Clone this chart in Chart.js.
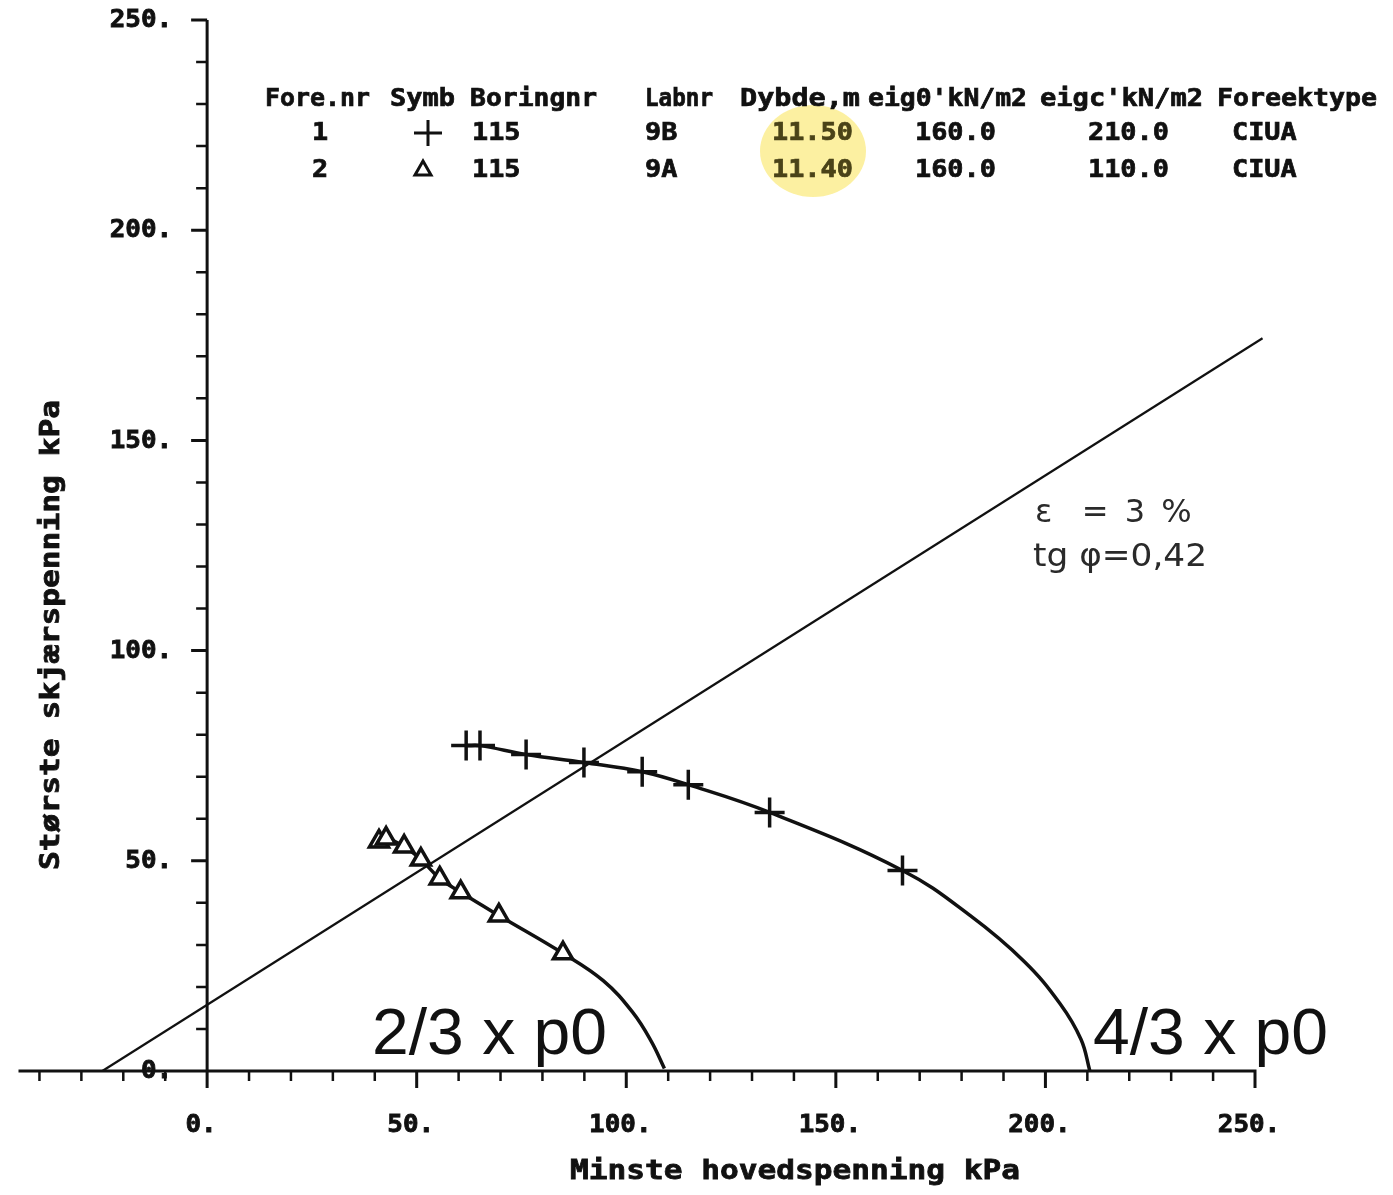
<!DOCTYPE html>
<html lang="no">
<head>
<meta charset="UTF-8">
<title>Største skjærspenning / minste hovedspenning</title>
<script src="https://cdn.jsdelivr.net/npm/chart.js@4.4.5/dist/chart.umd.min.js"></script>
<style>
  html, body { margin: 0; padding: 0; background: #fff; }
</style>
</head>
<body>
<canvas id="myChart" width="1393" height="1195"></canvas>

<script>
    // Forsøk 1 (+), labnr 9B
    const crossX = [61.8, 65.1, 76.1, 89.9, 103.8, 114.8, 134.2, 165.9];
    const crossY = [77.4, 77.4, 75.3, 73.4, 71.2, 68.1, 61.5, 47.7];
    // curve keeps going after the last marker, down to the x axis
    const crossTailX = [182.0, 195.0, 203.5, 208.5, 210.6];
    const crossTailY = [37.0, 26.0, 16.0, 7.5, 0];

    // Forsøk 2 (triangle), labnr 9A
    const triX = [41.0, 42.7, 47.0, 51.0, 55.5, 60.5, 69.6, 84.9];
    const triY = [54.6, 55.3, 53.4, 50.3, 45.8, 42.5, 37.0, 28.0];
    const triTailX = [94.5, 101.5, 106.0, 109.1];
    const triTailY = [21.5, 14.0, 7.0, 0.6];

    // failure line, tg phi
    const fitX = [-25.0, 251.8];
    const fitY = [0, 174.3];

    const majorTicks = [0, 50, 100, 150, 200, 250];
    const tickLabels = ['0.', '50.', '100.', '150.', '200.', '250.'];
    const xMinorTicks = [-40, -30, -20, -10, 10, 20, 30, 40, 60, 70, 80, 90, 110, 120, 130, 140, 160, 170, 180, 190, 210, 220, 230, 240];
    const yMinorTicks = [10, 20, 30, 40, 60, 70, 80, 90, 110, 120, 130, 140, 160, 170, 180, 190, 210, 220, 230, 240];

    const headerCols = ['Fore.nr', 'Symb', 'Boringnr', 'Labnr', 'Dybde,m', "eig0'kN/m2", "eigc'kN/m2", 'Foreektype'];
    const row1 = ['1', '', '115', '9B', '11.50', '160.0', '210.0', 'CIUA'];
    const row2 = ['2', '', '115', '9A', '11.40', '160.0', '110.0', 'CIUA'];

    function pts(xs, ys) {
        return xs.map((x, i) => ({x: x, y: ys[i]}));
    }

    const PLOT = 'bold 24px "DejaVu Sans Mono"';

    // plotter-style text: a little stroke on top of the fill makes it heavier
    function txt(ctx, s, x, y, font, align, sx, color, heavy) {
        ctx.save();
        ctx.font = font;
        ctx.fillStyle = color || '#111';
        ctx.strokeStyle = color || '#111';
        ctx.lineWidth = heavy || 0;
        ctx.textAlign = align || 'left';
        ctx.textBaseline = 'middle';
        ctx.translate(x, y);
        ctx.scale(sx || 1, 1);
        ctx.fillText(s, 0, 0);
        if (heavy) ctx.strokeText(s, 0, 0);
        ctx.restore();
    }

    function fitTxt(ctx, s, x, y, font, width, align, color, heavy) {
        ctx.save();
        ctx.font = font;
        const w = ctx.measureText(s).width;
        ctx.restore();
        txt(ctx, s, x, y, font, align, width / w, color, heavy);
    }

    const axesPlugin = {
        id: 'plotterAxes',
        afterDraw: function (chart) {
            const ctx = chart.ctx;
            const xs = chart.scales.x;
            const ys = chart.scales.y;
            const x0 = xs.getPixelForValue(0);
            const y0 = ys.getPixelForValue(0);

            ctx.save();
            ctx.strokeStyle = '#111';
            ctx.lineWidth = 3;
            ctx.lineCap = 'butt';
            ctx.beginPath();
            ctx.moveTo(xs.left, y0);
            ctx.lineTo(xs.getPixelForValue(250) + 1.5, y0);
            ctx.moveTo(x0, ys.getPixelForValue(250));
            ctx.lineTo(x0, y0 + 15);
            majorTicks.forEach(v => {
                const px = xs.getPixelForValue(v);
                ctx.moveTo(px, y0);
                ctx.lineTo(px, y0 + 17);
                const py = ys.getPixelForValue(v);
                ctx.moveTo(x0, py);
                ctx.lineTo(x0 - 16, py);
            });
            ctx.stroke();
            ctx.lineWidth = 2.5;
            ctx.beginPath();
            xMinorTicks.forEach(v => {
                const px = xs.getPixelForValue(v);
                ctx.moveTo(px, y0);
                ctx.lineTo(px, y0 + 10);
            });
            yMinorTicks.forEach(v => {
                const py = ys.getPixelForValue(v);
                ctx.moveTo(x0, py);
                ctx.lineTo(x0 - 11, py);
            });
            ctx.stroke();
            ctx.restore();

            // tick labels
            majorTicks.forEach((v, i) => {
                txt(ctx, tickLabels[i], xs.getPixelForValue(v) - 6, y0 + 55, PLOT, 'center', 1.08, '#111', 0.8);
                txt(ctx, tickLabels[i], x0 - 35, ys.getPixelForValue(v) + 1, PLOT, 'right', 1.08, '#111', 0.8);
            });

            // axis titles
            fitTxt(ctx, 'Minste hovedspenning kPa', 795, 1172, 'bold 27px "DejaVu Sans Mono"', 450, 'center', '#111', 0.8);
            ctx.save();
            ctx.translate(52, 635);
            ctx.rotate(-Math.PI / 2);
            fitTxt(ctx, 'Største skjærspenning kPa', 0, 0, 'bold 27px "DejaVu Sans Mono"', 470, 'center', '#111', 0.8);
            ctx.restore();

            // highlight round the depth values
            ctx.save();
            ctx.fillStyle = 'rgba(250, 232, 110, 0.65)';
            ctx.beginPath();
            ctx.ellipse(813, 151, 53, 46, 0, 0, Math.PI * 2);
            ctx.fill();
            ctx.restore();

            // test table
            const colX = [265, 390, 470, 645, 740, 868, 1040, 1217];
            const valX = [312, 0, 472, 645, 772, 915, 1088, 1232];
            const colW = [105, 65, 127, 68, 120, 159, 163, 160];
            headerCols.forEach((h, i) => fitTxt(ctx, h, colX[i], 100, PLOT, colW[i], 'left', '#111', 0.7));
            [row1, row2].forEach((row, r) => {
                const y = r === 0 ? 134 : 171;
                row.forEach((s, i) => {
                    if (!s) return;
                    const c = i === 4 ? '#4a4318' : '#111';
                    txt(ctx, s, valX[i], y, PLOT, 'left', 1.12, c, 0.7);
                });
            });
            ctx.save();
            ctx.strokeStyle = '#111';
            ctx.lineWidth = 3;
            ctx.beginPath();
            ctx.moveTo(414, 133);
            ctx.lineTo(442, 133);
            ctx.moveTo(428, 120);
            ctx.lineTo(428, 146);
            ctx.moveTo(423, 161);
            ctx.lineTo(431, 175);
            ctx.lineTo(415, 175);
            ctx.closePath();
            ctx.stroke();
            ctx.restore();

            // notes
            ctx.save();
            ctx.letterSpacing = '3px';
            txt(ctx, 'ε  = 3 %', 1035, 514, '32px "DejaVu Sans"', 'left', 1, '#2a2a2a');
            ctx.restore();
            fitTxt(ctx, 'tg φ=0,42', 1033, 558, '32px "DejaVu Sans"', 174, 'left', '#2a2a2a');

            fitTxt(ctx, '2/3 x p0', 372, 1036, '64px "Liberation Sans"', 235, 'left', '#111');
            fitTxt(ctx, '4/3 x p0', 1093, 1036, '64px "Liberation Sans"', 235, 'left', '#111');
        }
    };

    const config = {
        type: 'scatter',
        data: {
            datasets: [
                {
                    label: 'Forsøk 1',
                    data: pts(crossX, crossY),
                    pointStyle: 'cross',
                    pointRadius: 15,
                    borderColor: '#111',
                    borderWidth: 3.5,
                    showLine: false
                },
                {
                    label: 'Forsøk 2',
                    data: pts(triX, triY),
                    pointStyle: 'triangle',
                    pointRadius: 11,
                    borderColor: '#111',
                    backgroundColor: '#fff',
                    borderWidth: 3.5,
                    showLine: false
                },
                {
                    label: 'kurve 1',
                    data: pts(crossX.concat(crossTailX), crossY.concat(crossTailY)),
                    showLine: true,
                    pointRadius: 0,
                    borderColor: '#111',
                    borderWidth: 3.5,
                    tension: 0.4,
                    clip: false
                },
                {
                    label: 'kurve 2',
                    data: pts(triX.concat(triTailX), triY.concat(triTailY)),
                    showLine: true,
                    pointRadius: 0,
                    borderColor: '#111',
                    borderWidth: 3.5,
                    tension: 0.4,
                    clip: false
                },
                {
                    label: 'tg phi',
                    data: pts(fitX, fitY),
                    showLine: true,
                    pointRadius: 0,
                    borderColor: '#111',
                    borderWidth: 2.2,
                    clip: false
                }
            ]
        },
        options: {
            responsive: false,
            animation: false,
            devicePixelRatio: 1,
            layout: {
                padding: {left: 18, right: 138, top: 20, bottom: 124}
            },
            scales: {
                x: {type: 'linear', min: -45, max: 250, display: false},
                y: {type: 'linear', min: 0, max: 250, display: false}
            },
            plugins: {
                legend: {display: false},
                tooltip: {enabled: false}
            }
        },
        plugins: [axesPlugin]
    };

    const ctx = document.getElementById('myChart').getContext('2d');
    const myChart = new Chart(ctx, config);
</script>
</body>
</html>
